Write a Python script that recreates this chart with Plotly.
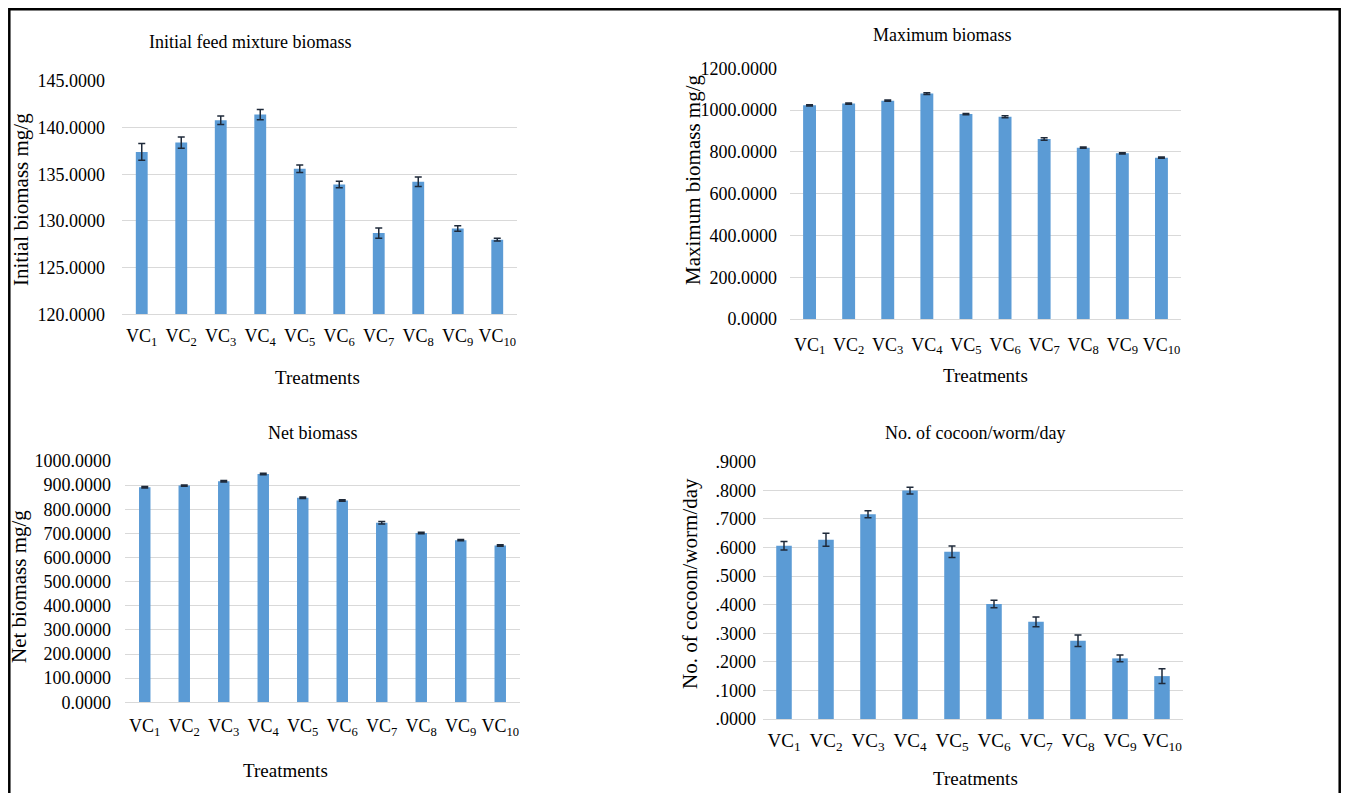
import plotly.graph_objects as go

W, H = 1349, 801
OFF = 8
FW, FH = W - 2 * OFF, H - 2 * OFF

categories = ["VC<sub>1</sub>", "VC<sub>2</sub>", "VC<sub>3</sub>", "VC<sub>4</sub>", "VC<sub>5</sub>",
              "VC<sub>6</sub>", "VC<sub>7</sub>", "VC<sub>8</sub>", "VC<sub>9</sub>", "VC<sub>10</sub>"]

initial_biomass = [137.4, 138.4, 140.8, 141.4, 135.6, 133.9, 128.7, 134.2, 129.2, 128.0]
initial_err = [0.9, 0.6, 0.45, 0.55, 0.4, 0.35, 0.55, 0.5, 0.3, 0.15]

max_biomass = [1023, 1031, 1045, 1079, 981, 968, 862, 820, 793, 772]
max_err = [3, 3, 3, 4, 3, 5, 6, 3, 3, 3]

net_biomass = [891, 898, 916, 946, 848, 836, 744, 702, 672, 650]
net_err = [3, 3, 3, 3, 3, 3, 5, 3, 3, 3]

cocoon = [0.606, 0.627, 0.716, 0.799, 0.585, 0.402, 0.340, 0.274, 0.212, 0.150]
cocoon_err = [0.015, 0.023, 0.012, 0.012, 0.020, 0.013, 0.017, 0.020, 0.012, 0.026]

ticks_initial = [120, 125, 130, 135, 140, 145]
ticks_max = [0, 200, 400, 600, 800, 1000, 1200]
ticks_net = [0, 100, 200, 300, 400, 500, 600, 700, 800, 900, 1000]
ticks_cocoon = [0.0, 0.1, 0.2, 0.3, 0.4, 0.5, 0.6, 0.7, 0.8, 0.9]
ticktext_cocoon = [".0000", ".1000", ".2000", ".3000", ".4000", ".5000", ".6000", ".7000", ".8000", ".9000"]

titles = ["Initial feed mixture biomass", "Maximum biomass", "Net biomass", "No. of cocoon/worm/day"]
ytitles = ["Initial biomass mg/g", "Maximum biomass mg/g", "Net biomass mg/g", "No. of cocoon/worm/day"]
xtitle = "Treatments"

FONT = "Liberation Serif"
BAR = "#5B9BD5"
GRID = "#D9D9D9"
ERR = "#1F2A3A"


def fx(p):
    return (p - OFF) / FW


def fy(p):
    return 1 - (p - OFF) / FH


panels = [
    dict(vals=initial_biomass, err=initial_err, x=(122, 517), y=(81, 314.3), rng=[120, 145],
         tickvals=ticks_initial, ticktext=None, fmt=".4f", bw=0.30, xstand=5, ystand=16, xfs=18,
         title=(250, 42), ytitle=(21, 200), xt=(317, 377)),
    dict(vals=max_biomass, err=max_err, x=(790, 1181), y=(68.3, 319), rng=[0, 1200],
         tickvals=ticks_max, ticktext=None, fmt=".4f", bw=0.33, xstand=9, ystand=12, xfs=18,
         title=(942, 35), ytitle=(693, 180), xt=(985, 375)),
    dict(vals=net_biomass, err=net_err, x=(125, 520), y=(461, 702.3), rng=[0, 1000],
         tickvals=ticks_net, ticktext=None, fmt=".4f", bw=0.29, xstand=7, ystand=13, xfs=18,
         title=(313, 433), ytitle=(19, 587), xt=(285, 770)),
    dict(vals=cocoon, err=cocoon_err, x=(763, 1183), y=(461.7, 719), rng=[0, 0.9],
         tickvals=ticks_cocoon, ticktext=ticktext_cocoon, fmt=None, bw=0.37, xstand=4, ystand=6, xfs=19,
         title=(975, 433), ytitle=(690, 584), xt=(975, 778)),
]

fig = go.Figure()
annotations = []
for i, p in enumerate(panels):
    n = "" if i == 0 else str(i + 1)
    fig.add_trace(go.Bar(
        x=categories, y=p["vals"], width=p["bw"], marker=dict(color=BAR, line=dict(width=0)),
        error_y=dict(type="data", array=p["err"], visible=True, color=ERR, thickness=1.5, width=3.5),
        xaxis="x" + n, yaxis="y" + n, showlegend=False,
    ))
    xa = dict(domain=[fx(p["x"][0]), fx(p["x"][1])], anchor="y" + n, type="category",
              showgrid=False, showline=True, linecolor=GRID, linewidth=1, ticks="", tickangle=0,
              tickfont=dict(family=FONT, size=p["xfs"], color="#000"), ticklabelstandoff=p["xstand"],
              zeroline=False, fixedrange=True, automargin=False)
    ya = dict(domain=[fy(p["y"][1]), fy(p["y"][0])], anchor="x" + n, range=p["rng"],
              tickvals=p["tickvals"], showgrid=True, gridcolor=GRID, gridwidth=1,
              zeroline=False, showline=False, ticks="",
              tickfont=dict(family=FONT, size=18, color="#000"), ticklabelstandoff=p["ystand"],
              fixedrange=True, automargin=False)
    if p["ticktext"] is not None:
        ya["ticktext"] = p["ticktext"]
    else:
        ya["tickformat"] = p["fmt"]
    fig.update_layout(**{"xaxis" + n: xa, "yaxis" + n: ya})

    annotations.append(dict(text=titles[i], x=fx(p["title"][0]), y=fy(p["title"][1]), xref="paper", yref="paper",
                            xanchor="center", yanchor="middle", showarrow=False,
                            font=dict(family=FONT, size=18, color="#000")))
    annotations.append(dict(text=ytitles[i], x=fx(p["ytitle"][0]), y=fy(p["ytitle"][1]), xref="paper", yref="paper",
                            xanchor="center", yanchor="middle", showarrow=False, textangle=-90,
                            font=dict(family=FONT, size=21, color="#000")))
    annotations.append(dict(text=xtitle, x=fx(p["xt"][0]), y=fy(p["xt"][1]), xref="paper", yref="paper",
                            xanchor="center", yanchor="middle", showarrow=False,
                            font=dict(family=FONT, size=19, color="#000")))

fig.update_layout(
    width=FW, height=FH, margin=dict(l=0, r=0, t=0, b=0, autoexpand=False),
    paper_bgcolor="white", plot_bgcolor="white",
    annotations=annotations,
    shapes=[dict(type="rect", xref="paper", yref="paper", x0=fx(9.3), x1=fx(1339.7), y0=-0.05, y1=fy(9.3),
                 line=dict(color="#000", width=2.5), fillcolor="rgba(0,0,0,0)", layer="above")],
)

fig.write_html("out.html")
